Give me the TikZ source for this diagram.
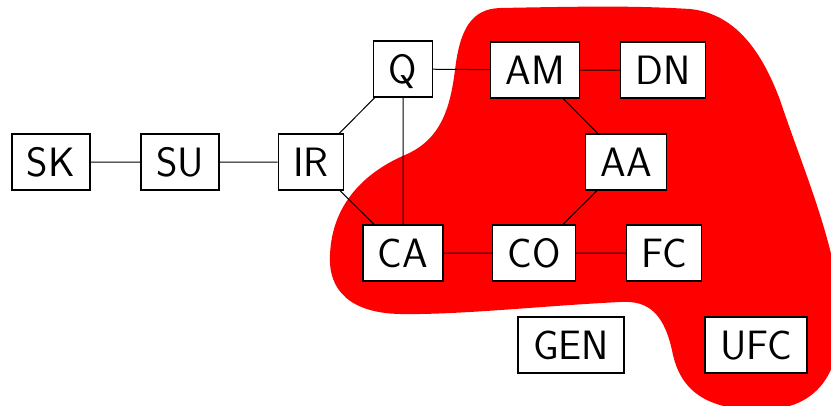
\documentclass[tikz,border=0pt]{standalone}
\usepackage{fontspec}
\begin{document}
\begin{tikzpicture}[x=1pt,y=-1pt,
  box/.style={draw=black,line width=1.4pt,fill=white,font=\sffamily\fontsize{41}{48}\selectfont,
    inner xsep=15pt,inner ysep=0pt,minimum height=56pt,text height=28.5pt,text depth=0pt},
  link/.style={draw=black,line width=1pt}]
\useasboundingbox (0,0) rectangle (831,405);
\clip (0,0) rectangle (831,405);
\fill[red] (500,8) .. controls (600,6) and (640,6) .. (690,9)
  .. controls (740,14) and (765,60) .. (780,100)
  .. controls (800,160) and (830,230) .. (838,290)
  .. controls (848,370) and (820,410) .. (760,410)
  .. controls (700,410) and (680,385) .. (673,355)
  .. controls (665,315) and (650,300) .. (620,302)
  .. controls (540,306) and (460,315) .. (400,314)
  .. controls (350,313) and (328,290) .. (330,255)
  .. controls (332,200) and (370,170) .. (405,155)
  .. controls (440,140) and (450,110) .. (455,70)
  .. controls (460,28) and (472,9) .. (500,8) -- cycle;
\node[box] (SK) at (51,162) {SK};
\node[box] (SU) at (180,162) {SU};
\node[box] (IR) at (311,162) {IR};
\node[box] (Q) at (403,69) {Q};
\node[box] (AM) at (535,70) {AM};
\node[box] (DN) at (663,70) {DN};
\node[box] (AA) at (626,162) {AA};
\node[box] (CA) at (403,253) {CA};
\node[box] (CO) at (534,253) {CO};
\node[box] (FC) at (664,253) {FC};
\node[box] (GEN) at (571,345) {GEN};
\node[box] (UFC) at (756,345) {UFC};
\path[link] (SK) -- (SU) (SU) -- (IR) (IR) -- (Q) (IR) -- (CA) (Q) -- (CA)
  (Q) -- (AM) (AM) -- (DN) (AM) -- (AA) (AA) -- (CO) (CA) -- (CO) (CO) -- (FC);
\end{tikzpicture}
\end{document}
